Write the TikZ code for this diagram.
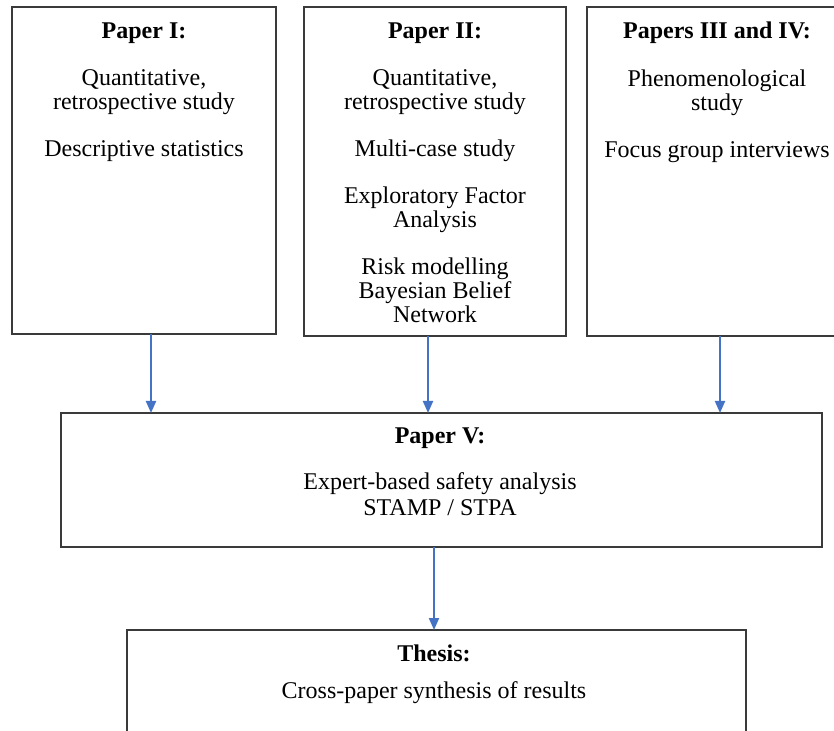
\documentclass[tikz,border=0pt]{standalone}
\usepackage{fontspec}
\setmainfont{Liberation Serif}
\usetikzlibrary{arrows.meta}
\definecolor{flowblue}{HTML}{4472C4}
\definecolor{framegray}{HTML}{3A3A3A}
\begin{document}
\begin{tikzpicture}[x=0.5pt,y=-0.5pt,
  paperbox/.style={draw=framegray,line width=0.8pt,inner sep=0pt,outer sep=0pt,rectangle},
  title/.style={font=\fontsize{12pt}{12pt}\selectfont\bfseries,anchor=base,inner sep=0pt},
  % the strut fixes the first line's height at 8.4pt, so the north anchor
  % lies 16.8 units above the first baseline
  body/.style={font=\fontsize{12pt}{12pt}\selectfont,align=center,anchor=north,inner sep=0pt,
    execute at begin node=\strut},
  flow/.style={draw=flowblue,line width=1pt,-{Triangle[length=6pt,width=5pt]}}]
\useasboundingbox (0,0) rectangle (834,731);
\clip (0,0) rectangle (834,731);
\fill[white] (0,0) rectangle (834,731);

% study boxes in the top row
\node[paperbox,minimum width=132pt,minimum height=163.5pt] (p1) at (144,170.5) {};
\node[paperbox,minimum width=131pt,minimum height=164.5pt] (p2) at (435,171.5) {};
\node[paperbox,minimum width=131.5pt,minimum height=164.5pt] (p34) at (718.5,171.5) {};

% synthesis boxes
\node[paperbox,minimum width=380.5pt,minimum height=67pt] (p5) at (441.5,480) {};
\node[paperbox,minimum width=309.5pt,minimum height=65pt] (th) at (436.5,695) {};

% box texts
\node[title] (t1) at (144,39) {Paper I:};
\node[body] (b1) at (144,69.2) {Quantitative,\\retrospective study\\[11.5pt]Descriptive statistics};

\node[title] (t2) at (435,39) {Paper II:};
\node[body] (b2) at (435,69.2) {Quantitative,\\retrospective study\\[11.5pt]Multi-case study\\[11.5pt]Exploratory Factor\\Analysis\\[11.5pt]Risk modelling\\Bayesian Belief\\Network};

\node[title] (t34) at (717,39) {Papers III and IV:};
\node[body] (b34) at (717,69.2) {Phenomenological\\study\\[11.5pt]Focus group interviews};

\node[title] (t5) at (440,444) {Paper V:};
\node[body,font=\fontsize{12pt}{13pt}\selectfont] (b5) at (440,472.2) {Expert-based safety analysis\\STAMP / STPA};

\node[title] (tth) at (434,661) {Thesis:};
\node[body] (bth) at (434,681.2) {Cross-paper synthesis of results};

% connectors
\draw[flow] ([xshift=3.5pt]p1.south) -- ([xshift=3.5pt]p1.south |- p5.north);
\draw[flow] ([xshift=-3.5pt]p2.south) -- ([xshift=-3.5pt]p2.south |- p5.north);
\draw[flow] ([xshift=0.75pt]p34.south) -- ([xshift=0.75pt]p34.south |- p5.north);
\draw[flow] ([xshift=-3.75pt]p5.south) -- ([xshift=-3.75pt]p5.south |- th.north);
\end{tikzpicture}
\end{document}
